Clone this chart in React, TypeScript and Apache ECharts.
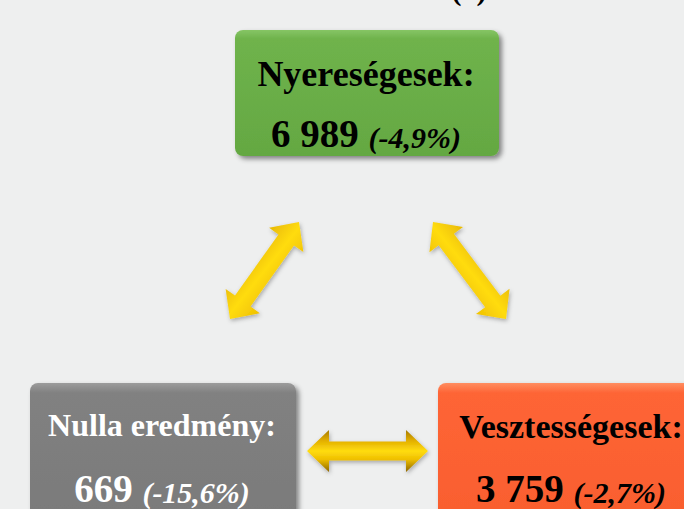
import React, { useEffect, useRef } from "react";
import * as echarts from "echarts";

// ---- data ----
const categories = ["Nyereségesek:", "Nulla eredmény:", "Vesztességesek:"];
const counts = [6989, 669, 3759];
const changes = [-4.9, -15.6, -2.7];
const topLabel = "(1)";

// ---- layout / styles ----
const boxLayout = [
  { x: 235, y: 30, w: 264, h: 126, cx: 366, b1: 86, b2: 146, title: 36, num: 39, pct: 30, color: "#000", fill: ["#86c565", "#6fb34c", "#64a842"] },
  { x: 30, y: 383, w: 266, h: 140, cx: 162, b1: 436, b2: 501, title: 32, num: 39, pct: 30, color: "#fff", fill: ["#9c9c9c", "#818181", "#7a7a7a"] },
  { x: 438, y: 383, w: 260, h: 140, cx: 571, b1: 438, b2: 501, title: 34, num: 39, pct: 30, color: "#000", fill: ["#ff8d60", "#fe6536", "#f95e2e"] },
];

const arrows = [
  { x1: 230, y1: 319, x2: 299, y2: 222, g: [0, 0, 1, 1] },
  { x1: 433, y1: 222, x2: 506, y2: 319, g: [1, 0, 0, 1] },
  { x1: 307, y1: 451, x2: 428, y2: 451, g: [0, 0, 0, 1] },
];

const fmtNum = (n: number) => String(n).replace(/\B(?=(\d{3})+(?!\d))/g, " ");
const fmtPct = (v: number) => "(" + v.toFixed(1).replace(".", ",") + "%)";

function arrowPoints(x1: number, y1: number, x2: number, y2: number, sw: number, hw: number, hl: number) {
  const dx = x2 - x1, dy = y2 - y1;
  const len = Math.sqrt(dx * dx + dy * dy);
  const ux = dx / len, uy = dy / len;
  const nx = -uy, ny = ux;
  const p = (bx: number, by: number, a: number, b: number) => [bx + ux * a + nx * b, by + uy * a + ny * b];
  return [
    [x1, y1],
    p(x1, y1, hl, hw / 2),
    p(x1, y1, hl, sw / 2),
    p(x2, y2, -hl, sw / 2),
    p(x2, y2, -hl, hw / 2),
    [x2, y2],
    p(x2, y2, -hl, -hw / 2),
    p(x2, y2, -hl, -sw / 2),
    p(x1, y1, hl, -sw / 2),
    p(x1, y1, hl, -hw / 2),
  ];
}

const SERIF = "'Liberation Serif', 'Times New Roman', serif";

export default function App() {
  const ref = useRef<HTMLDivElement>(null);
  useEffect(() => {
    document.body.style.margin = "0";
    if (!ref.current) return;
    const chart = echarts.init(ref.current, undefined, { renderer: "svg" });
    const elements: any[] = [];

    elements.push({
      type: "text",
      x: 469,
      y: -11,
      style: { text: topLabel, font: `bold 30px ${SERIF}`, fill: "#000", align: "center", verticalAlign: "middle" },
    });

    arrows.forEach((a) => {
      elements.push({
        type: "polygon",
        shape: { points: arrowPoints(a.x1, a.y1, a.x2, a.y2, 19, 42, 22) },
        style: {
          fill: new echarts.graphic.LinearGradient(a.g[0], a.g[1], a.g[2], a.g[3], [
            { offset: 0, color: "#a67a00" },
            { offset: 0.25, color: "#e2ae00" },
            { offset: 0.5, color: "#ffdc10" },
            { offset: 0.7, color: "#efbf00" },
            { offset: 1, color: "#8c6600" },
          ]),
          shadowBlur: 4,
          shadowOffsetX: 1,
          shadowOffsetY: 2,
          shadowColor: "rgba(0,0,0,0.3)",
        },
      });
    });

    boxLayout.forEach((b, i) => {
      elements.push({
        type: "rect",
        shape: { x: b.x, y: b.y, width: b.w, height: b.h, r: 8 },
        style: {
          fill: new echarts.graphic.LinearGradient(0, 0, 0, 1, [
            { offset: 0, color: b.fill[0] },
            { offset: 0.07, color: b.fill[1] },
            { offset: 1, color: b.fill[2] },
          ]),
          shadowBlur: 5,
          shadowOffsetX: 3,
          shadowOffsetY: 3,
          shadowColor: "rgba(0,0,0,0.45)",
        },
      });
      elements.push({
        type: "text",
        x: b.cx,
        y: b.b1 - b.title * 0.33,
        style: {
          text: categories[i],
          font: `bold ${b.title}px ${SERIF}`,
          fill: b.color,
          align: "center",
          verticalAlign: "middle",
        },
      });
      elements.push({
        type: "text",
        x: b.cx,
        y: b.b2 - b.num * 0.33,
        style: {
          text: `{n|${fmtNum(counts[i])} }{p|${fmtPct(changes[i])}}`,
          align: "center",
          verticalAlign: "middle",
          fill: b.color,
          rich: {
            n: { fontFamily: SERIF, fontWeight: "bold", fontSize: b.num, fill: b.color, verticalAlign: "bottom", lineHeight: b.num },
            p: { fontFamily: SERIF, fontWeight: "bold", fontStyle: "italic", fontSize: b.pct, fill: b.color, verticalAlign: "bottom", lineHeight: b.num },
          },
        },
      });
    });

    chart.setOption({
      animation: false,
      backgroundColor: "#eeefef",
      graphic: { elements },
    });
    return () => chart.dispose();
  }, []);
  return <div ref={ref} style={{ width: 684, height: 509 }} />;
}
